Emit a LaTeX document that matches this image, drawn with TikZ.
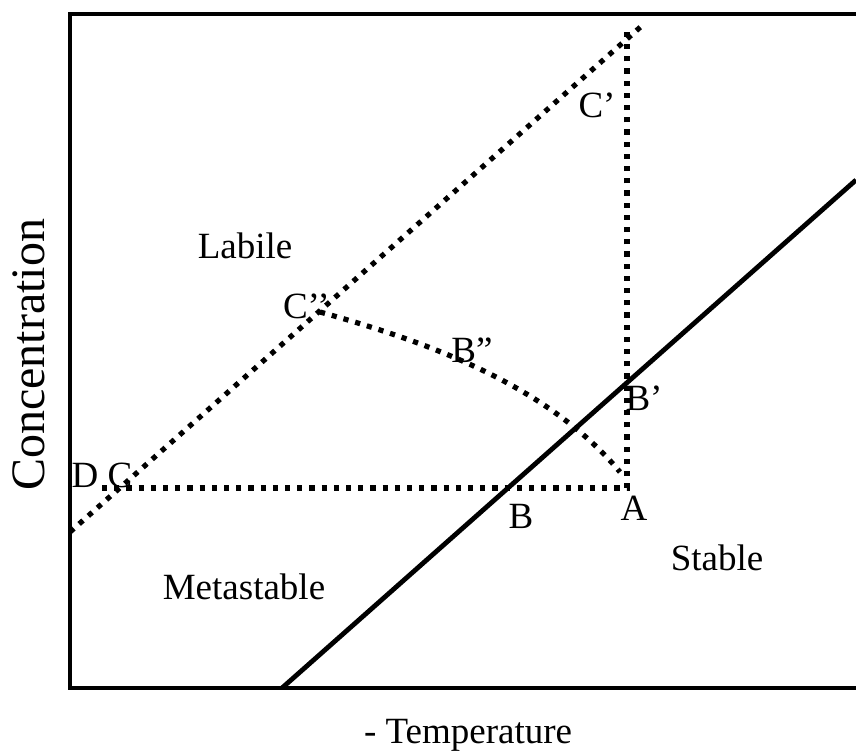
\documentclass[tikz,border=0pt]{standalone}
\usepackage{fontspec}
\setmainfont{Liberation Serif}
\usetikzlibrary{positioning}

\begin{document}
\begin{tikzpicture}[x=0.5pt,y=-0.5pt,
    bordo/.style={line width=2pt},
    punti/.style={line width=2.6pt,dash pattern=on 2.6pt off 3.5pt},
    etichetta/.style={font=\fontsize{18.5}{22}\selectfont,inner sep=0pt}]
\useasboundingbox (0,0) rectangle (856,753);

% Punti del diagramma
\coordinate (angoloA) at (70,14);
\coordinate (angoloB) at (70,688);
\coordinate (destraA) at (856,14);
\coordinate (destraB) at (856,688);
\coordinate (pA) at (627,488);
\coordinate (pC) at (102,488);
\coordinate (pCcima) at (627,32);
\coordinate (pCpp) at (320,312);
\coordinate (pFine) at (620,472);
\coordinate (labA) at (70,532);
\coordinate (labB) at (645,23);
\coordinate (solA) at (282,688);
\coordinate (solB) at (856,180);

% Cornice (aperta a destra)
\draw[bordo] (destraA) -- (angoloA) -- (angoloB) -- (destraB);

% Curva di solubilita'
\draw[line width=2.4pt] (solA) -- (solB);

% Limite labile
\draw[punti] (labA) -- (labB);

% Percorsi
\draw[punti] (pC) -- (pA) -- (pCcima);
\draw[punti] (pCpp) .. controls (420,340) and (545,382) .. (pFine);

% Etichette
\node[etichetta] (labile) at (245,246) {Labile};
\node[etichetta] (meta) at (244,587) {Metastable};
\node[etichetta] (stabile) at (717,558) {Stable};
\node[etichetta] (cp) at (597,105) {C’};
\node[etichetta,anchor=east] (cpp) at (330,306) {C’’};
\node[etichetta] (bpp) at (472,350) {B”};
\node[etichetta] (bp) at (644,398) {B’};
\node[etichetta] (b) at (521,516) {B};
\node[etichetta] (a) at (634,508) {A};
\node[etichetta] (dc) at (102,475) {D C};
\node[font=\fontsize{24}{29}\selectfont,rotate=90,inner sep=0pt] (conc) at (29,355) {Concentration};
\node[etichetta] (temp) at (468,735) {- Temperature};
\end{tikzpicture}
\end{document}
